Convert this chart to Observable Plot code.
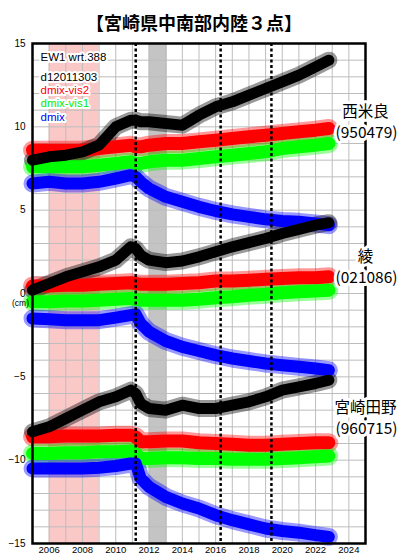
<!DOCTYPE html>
<html>
<head>
<meta charset="utf-8">
<script src="https://cdn.jsdelivr.net/npm/d3@7"></script>
<script src="https://cdn.jsdelivr.net/npm/@observablehq/plot@0.6"></script>
<style>
  body { margin: 0; background: white; }
  #title { font-family: "Noto Sans CJK JP", sans-serif; font-weight: bold; font-size: 18px; line-height: 18px;
           height: 36px; padding-top: 13px; box-sizing: border-box; width: 388px; text-align: center; color: #000; }
</style>
</head>
<body>
<div id="title">【宮崎県中南部内陸３点】</div>
<div id="chart"></div>
<script>
// ---- data ----
const years = [2005, 2006, 2007, 2008, 2009, 2010, 2010.9, 2011.2, 2011.5, 2012, 2013, 2014, 2015, 2016, 2017, 2018, 2019, 2020, 2021, 2022, 2022.8];

// 西米良 (950479)
const nishimeraBlack = [8.0, 8.2, 8.3, 8.5, 8.9, 10.0, 10.4, 10.4, 10.3, 10.3, 10.2, 10.1, 10.7, 11.2, 11.5, 11.9, 12.3, 12.7, 13.1, 13.6, 14.0];
const nishimeraRed   = [8.6, 8.6, 8.6, 8.6, 8.7, 8.8, 8.9, 8.8, 8.8, 8.9, 9.0, 9.0, 9.1, 9.2, 9.3, 9.4, 9.5, 9.6, 9.7, 9.8, 9.9];
const nishimeraGreen = [7.6, 7.6, 7.6, 7.6, 7.7, 7.8, 7.9, 7.8, 7.8, 7.9, 8.0, 8.0, 8.1, 8.2, 8.3, 8.4, 8.5, 8.7, 8.8, 8.9, 9.0];
const nishimeraBlue  = [6.6, 6.7, 6.6, 6.6, 6.7, 6.9, 7.1, 7.0, 6.7, 6.3, 5.8, 5.5, 5.2, 4.95, 4.75, 4.6, 4.45, 4.35, 4.3, 4.2, 4.1];

// 綾 (021086)
const ayaBlack = [0.2, 0.6, 1.0, 1.3, 1.6, 2.0, 2.8, 2.7, 2.3, 2.0, 1.85, 1.95, 2.2, 2.5, 2.8, 3.05, 3.3, 3.6, 3.85, 4.1, 4.25];
const ayaRed   = [0.45, 0.45, 0.5, 0.5, 0.55, 0.6, 0.65, 0.6, 0.55, 0.55, 0.55, 0.6, 0.65, 0.75, 0.75, 0.8, 0.85, 0.9, 0.95, 0.95, 1.0];
const ayaGreen = [-0.5, -0.5, -0.45, -0.45, -0.4, -0.35, -0.3, -0.35, -0.4, -0.4, -0.4, -0.4, -0.35, -0.25, -0.2, -0.1, -0.05, 0.05, 0.1, 0.15, 0.2];
const ayaBlue  = [-1.5, -1.55, -1.6, -1.6, -1.6, -1.45, -1.3, -1.25, -1.8, -2.3, -2.85, -3.2, -3.45, -3.7, -3.9, -4.05, -4.2, -4.3, -4.4, -4.5, -4.6];

// 宮崎田野 (960715)
const tanoBlack = [-8.3, -8.0, -7.5, -7.0, -6.5, -6.2, -5.8, -6.0, -6.6, -6.9, -7.0, -6.7, -6.9, -6.9, -6.7, -6.5, -6.2, -5.8, -5.6, -5.4, -5.2];
const tanoRed   = [-8.6, -8.6, -8.55, -8.55, -8.55, -8.5, -8.5, -8.6, -8.9, -8.9, -8.85, -8.85, -8.95, -9.0, -9.05, -9.1, -9.1, -9.05, -9.0, -8.95, -8.95];
const tanoGreen = [-9.6, -9.6, -9.55, -9.55, -9.5, -9.5, -9.45, -9.6, -9.9, -9.9, -9.85, -9.85, -9.9, -9.9, -9.95, -9.95, -9.95, -9.9, -9.85, -9.8, -9.75];
const tanoBlue  = [-10.5, -10.5, -10.5, -10.5, -10.45, -10.35, -10.2, -10.2, -11.1, -11.6, -12.2, -12.6, -12.9, -13.3, -13.6, -13.85, -14.1, -14.25, -14.35, -14.5, -14.6];

const stationNames = ["西米良", "綾", "宮崎田野"];
const stationCodes = ["950479", "021086", "960715"];
const stationLabelLevel = [10.26, 1.53, -7.5];

const legendLabels = ["EW1 wrt.388", "d12011303", "dmix-vis2", "dmix-vis1", "dmix"];
const legendColors = ["#000000", "#000000", "#ff0000", "#00ee00", "#0000ff"];

const pinkBand = [2006, 2009];
const grayBand = [2012.0, 2013.1];
const eventYears = [2011.2, 2016.3, 2019.35];

const xTickLabels = [2006, 2008, 2010, 2012, 2014, 2016, 2018, 2020, 2022, 2024];
const yTickLabels = [15, 10, 5, 0, -5, -10, -15];
const xGrid = d3.range(2005, 2026, 1);
const yGrid = d3.range(-15, 16, 1);
const unitLabel = "(cm)";

// ---- build tables ----
const seriesColors = { red: "#ff0000", green: "#00ff00", blue: "#0000ff", black: "#000000" };
const coreWidths = { red: 13, green: 13, blue: 12, black: 11 };
const stationSeries = [
  { code: stationCodes[0], red: nishimeraRed, green: nishimeraGreen, blue: nishimeraBlue, black: nishimeraBlack },
  { code: stationCodes[1], red: ayaRed, green: ayaGreen, blue: ayaBlue, black: ayaBlack },
  { code: stationCodes[2], red: tanoRed, green: tanoGreen, blue: tanoBlue, black: tanoBlack }
];
const drawOrder = ["red", "green", "blue", "black"];
const rowsBySeries = {};
for (const k of drawOrder) {
  rowsBySeries[k] = [];
  for (const s of stationSeries) {
    years.forEach((yr, i) => rowsBySeries[k].push({ year: yr, value: s[k][i], station: s.code }));
  }
}
const stationRows = stationNames.map((n, i) => ({ name: n, code: "(" + stationCodes[i] + ")", level: stationLabelLevel[i] }));

const marks = [
  Plot.rect([pinkBand], { x1: d => d[0], x2: d => d[1], fill: "#fbc8c8" }),
  Plot.rect([grayBand], { x1: d => d[0], x2: d => d[1], fill: "#c4c4c4" }),
  Plot.ruleX(xGrid, { stroke: "#bdbdbd", strokeWidth: 1 }),
  Plot.ruleY(yGrid, { stroke: "#bdbdbd", strokeWidth: 1 })
];
for (const k of drawOrder) {
  marks.push(Plot.line(rowsBySeries[k], { x: "year", y: "value", z: "station", stroke: seriesColors[k], strokeWidth: coreWidths[k] + 6, strokeOpacity: 0.4, strokeLinejoin: "round" }));
}
for (const k of drawOrder) {
  marks.push(Plot.line(rowsBySeries[k], { x: "year", y: "value", z: "station", stroke: seriesColors[k], strokeWidth: coreWidths[k], strokeLinejoin: "round" }));
}
marks.push(
  Plot.ruleX(eventYears, { stroke: "#000", strokeWidth: 2.5, strokeDasharray: "3,2.5" }),
  Plot.frame({ stroke: "#000", strokeWidth: 2.5 }),
  Plot.axisX({ ticks: xTickLabels, tickSize: 0, tickPadding: 3, tickFormat: d => String(d), fontSize: 9.5, label: null }),
  Plot.axisY({ ticks: yTickLabels, tickSize: 0, tickPadding: 7, fontSize: 10, label: null }),
  Plot.text([unitLabel], { frameAnchor: "left", y: () => 0, dx: -12, dy: 10, text: d => d, fontSize: 8.5, textAnchor: "middle" })
);
const legendOffsets = [13.7, 33.7, 47, 60.3, 73.7];
legendLabels.forEach((lab, i) => {
  marks.push(Plot.text([lab], { frameAnchor: "top-left", dx: 8, dy: legendOffsets[i], text: d => d, fill: legendColors[i],
    stroke: "white", strokeWidth: 4, fontSize: 11.5, textAnchor: "start", lineAnchor: "middle" }));
});
marks.push(
  Plot.text(stationRows, { frameAnchor: "right", y: "level", text: "name", dx: 0, dy: -10.5, textAnchor: "middle", lineAnchor: "middle",
    fontSize: 15.5, fontFamily: "Noto Sans CJK JP", fill: "#000", stroke: "white", strokeWidth: 6 }),
  Plot.text(stationRows, { frameAnchor: "right", y: "level", text: "code", dx: 1, dy: 10.5, textAnchor: "middle", lineAnchor: "middle",
    fontSize: 15.5, fontFamily: "Noto Sans CJK JP", fill: "#000", stroke: "white", strokeWidth: 6 })
);

const chart = Plot.plot({
  width: 402,
  height: 520,
  marginTop: 7,
  marginBottom: 13,
  marginLeft: 32,
  marginRight: 37,
  x: { domain: [2005, 2025] },
  y: { domain: [-15, 15] },
  style: { fontFamily: "'Liberation Sans', Arial, sans-serif", fontSize: "10px", background: "white", color: "#000", overflow: "visible" },
  marks
});
document.getElementById("chart").appendChild(chart);
</script>
</body>
</html>
